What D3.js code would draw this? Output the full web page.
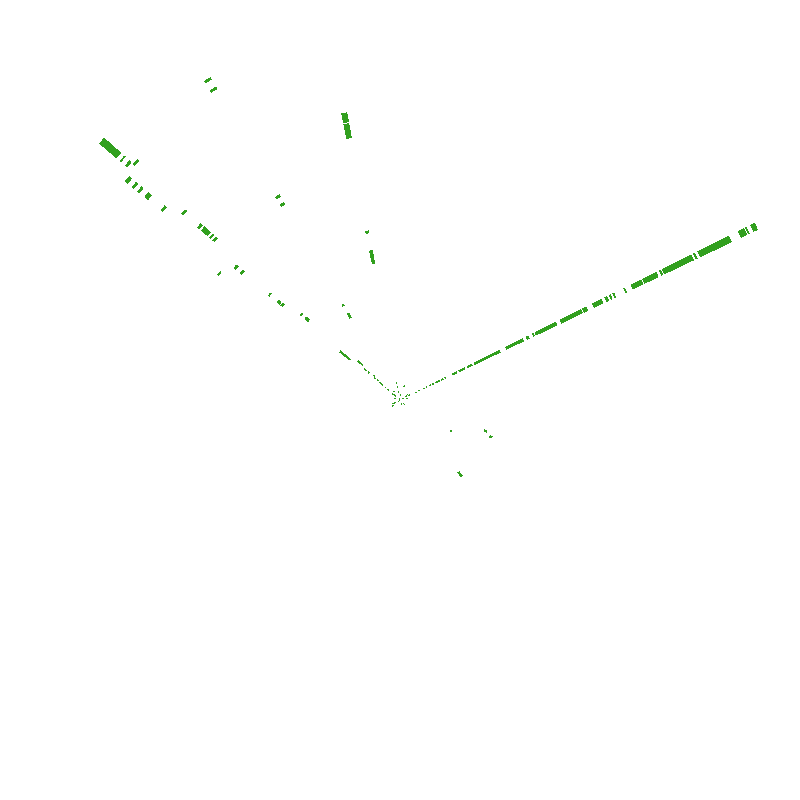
<!DOCTYPE html>
<html><head><meta charset="utf-8">
<script src="https://cdnjs.cloudflare.com/ajax/libs/d3/7.8.5/d3.min.js"></script>
<style>html,body{margin:0;background:#fff}svg{display:block}</style></head>
<body><svg id="c" width="800" height="800"></svg>
<script>
// each group: bearing in degrees, then [inner, outer] radial bands
const bearingEast = 64;
const bandsEast = [[17,18],[21,22],[26,27],[29,30],[33,34],[36,37],[40,44],[46,48],[50,51],[58,63],[66,70],[71,72],[75,80],[83,111],[119,122],[118,137],[141,143],[148,149],[151,174],[179,180],[181,202],[204,208],[215,225],[229,231],[234,235],[238,239],[250,251],[258,264],[265,269],[271,278],[279,280],[281,286],[290,291],[293,325],[328,329],[333,339],[340,347],[348,367],[378,382],[383,384],[386,387],[392,396]];
const bearingNW = 311;
const bandsNW = [[373,395],[367,368],[359,361],[244,246],[249,250],[253,255],[256,258],[259,261],[264,266],[285,287],[121,122],[123,125],[130,131],[33,34],[29,30],[26,27],[23,25],[19,20],[15,16],[41,42],[45,47]];
const bearingNW2 = 309;
const bandsNW2 = [[348,351],[340,342],[333,335],[325,326],[322,324],[303,305],[210,212],[202,204],[167,168],[154,157],[150,152],[64,77]];
const bearingN1 = 329;
const bandsN1 = [[372,374],[361,363],[236,238],[227,229],[110,111],[100,101],[96,99]];
const bearingN2 = 349;
const bandsN2 = [[288,292],[283,289],[278,281],[273,278],[267,272],[170,172],[149,152],[146,148],[141,145],[139,140],[17,18],[13,14],[8,9]];
const otherAngles = [312,313,305,17,325,308,313,3,288,338,63,54,58,62,78,232,244,242,232,158,135,121,141,110,112,313];
const otherInner  = [354,51,220,14,10,9,6,5,5,1,3,8,7,10,7,1,7,5,9,4,5,59,93,90,97,35];
const otherOuter  = [356,57,221,15,11,10,8,6,6,2,4,9,8,11,8,2,8,6,10,5,7,60,98,92,99,36];
const spanDeg = 1.0;

const svg = d3.select('#c');
const radius = d3.scaleLinear().domain([0,400]).range([0,400]);
const angle = d3.scaleLinear().domain([0,360]).range([0,2*Math.PI]);
const arc = d3.arc();
const rows = [];
[[bearingEast,bandsEast],[bearingNW,bandsNW],[bearingNW2,bandsNW2],[bearingN1,bandsN1],[bearingN2,bandsN2]]
  .forEach(([a,b]) => b.forEach(([i,o]) => rows.push({a,i,o})));
otherAngles.forEach((a,k) => rows.push({a,i:otherInner[k],o:otherOuter[k]}));

svg.append('g').attr('transform','translate(400,400)')
  .selectAll('path').data(rows).join('path')
  .attr('d', d => arc({innerRadius:radius(d.i),outerRadius:radius(d.o),
    startAngle:angle(d.a-spanDeg/2),endAngle:angle(d.a+spanDeg/2)}))
  .attr('fill','#32a01f')
  .attr('stroke','#32a01f')
  .attr('stroke-width',1)
  .attr('shape-rendering','crispEdges');
</script></body></html>
